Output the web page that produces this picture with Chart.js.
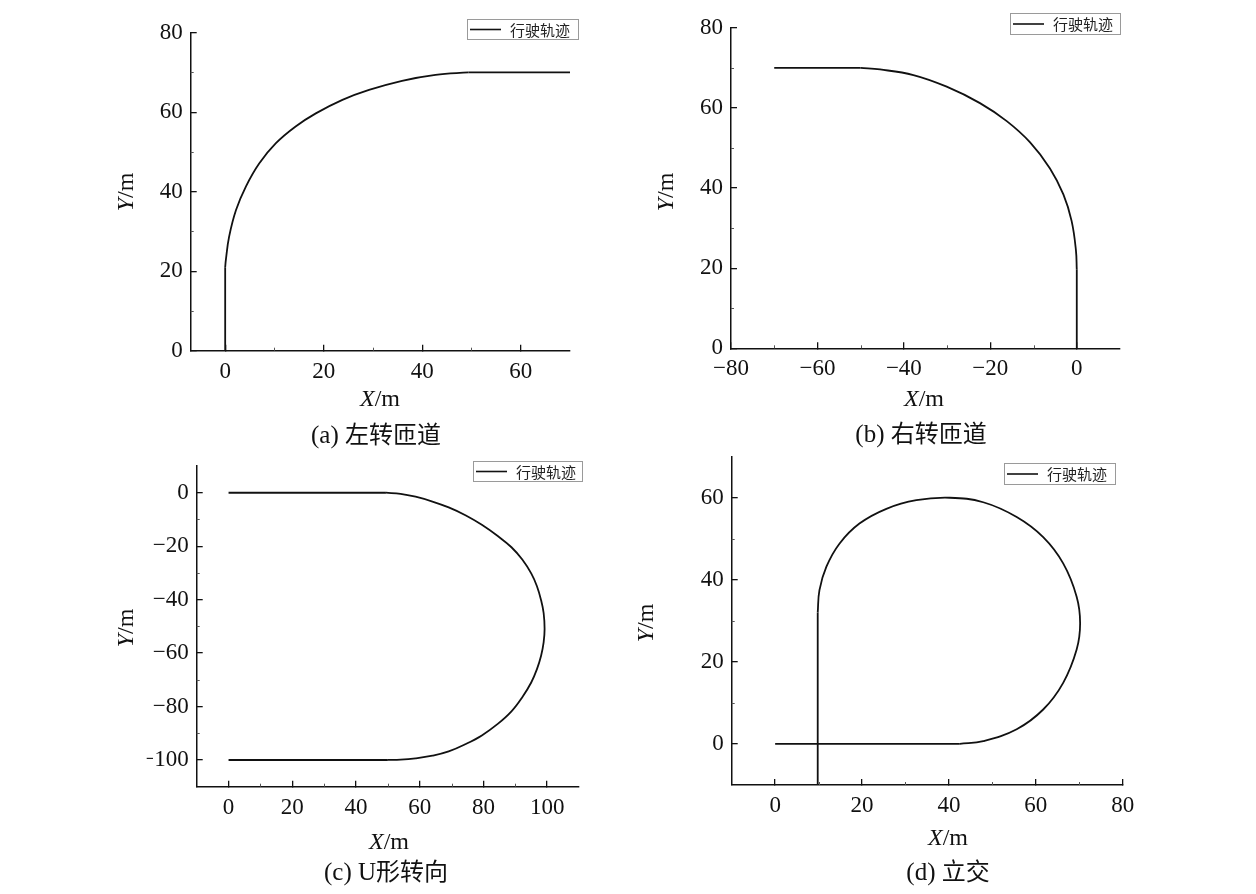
<!DOCTYPE html>
<html><head><meta charset="utf-8">
<script src="https://cdn.jsdelivr.net/npm/chart.js@4"></script>
<style>
html,body{margin:0;padding:0;background:#fff;}
#wrap{position:relative;width:1256px;height:894px;overflow:hidden;}
canvas{position:absolute;left:0;top:0;}
</style>
</head><body>
<div id="wrap">
<canvas id="ca" width="1256" height="894"></canvas>
<canvas id="cb" width="1256" height="894"></canvas>
<canvas id="cc" width="1256" height="894"></canvas>
<canvas id="cd" width="1256" height="894"></canvas>
</div>
<script>
// ---- data ----
const seriesName = '行驶轨迹';
const captions = ['(a) ', '左转匝道', '(b) ', '右转匝道', '(c) U', '形转向', '(d) ', '立交'];

const aX = [0, 0, 0.15, 0.8, 2.2, 4.2, 6.9, 10.3, 14.3, 18.4, 23.8, 29.2, 35.9, 42.7, 49.4, 70];
const aY = [0, 21, 23, 28.7, 35.4, 41.3, 47.1, 52.2, 56.4, 59.7, 63.1, 65.6, 67.9, 69.4, 70, 70];

const bX = [0, 0, -0.2, -1.2, -3.1, -6.2, -10.8, -16.2, -22.4, -30.1, -37.8, -45.5, -50, -70];
const bY = [0, 19.6, 24.5, 31.8, 38.4, 44.9, 51.4, 56.7, 61.2, 65.3, 68.2, 69.6, 70, 70];

const cX = [0, 49.4, 54, 58.7, 64, 69.1, 74.5, 79.5, 84.5, 88.8, 92.2, 95, 96.8, 98.1, 98.9, 99.2, 98.9, 98.1, 96.8, 95, 92.2, 88.8, 84.5, 79.5, 74.5, 69.1, 64, 58.7, 54, 50, 0];
const cY = [0, 0, -0.4, -1.5, -3.3, -5.5, -8.5, -12, -16.2, -20.4, -25, -30.2, -35, -40.2, -45, -51, -56, -61, -66, -71, -76.5, -81.8, -86.5, -90.8, -94, -96.8, -98.4, -99.4, -99.9, -100, -100];

const dX = [9.8, 9.8, 10.2, 11.8, 14.8, 19.4, 25.6, 32.5, 40.2, 47.9, 55.6, 61.7, 66.3, 69.4, 70.2, 69.4, 66.3, 61.7, 55.6, 47.9, 42.5, 0];
const dY = [-10, 32, 37.5, 43.2, 48.8, 53.7, 57.3, 59.4, 60, 58.9, 55.3, 50.4, 44, 35.9, 29.4, 23, 14.9, 8.4, 3.6, 0.7, 0, 0];

const aXRange = [-7, 70], aYRange = [0, 80];
const bXRange = [-80, 10], bYRange = [0, 80];
const cXRange = [-10, 110], cYRange = [-110, 10];
const dXRange = [-10, 80], dYRange = [-10, 70];

const aXTicks = [0, 20, 40, 60], aYTicks = [0, 20, 40, 60, 80];
const bXTicks = [-80, -60, -40, -20, 0], bYTicks = [0, 20, 40, 60, 80];
const cXTicks = [0, 20, 40, 60, 80, 100], cYTicks = [-100, -80, -60, -40, -20, 0];
const dXTicks = [0, 20, 40, 60, 80], dYTicks = [0, 20, 40, 60];

// ---- styling / layout ----
const SERIF = '"Liberation Serif","Times New Roman",serif';
const CJK = '"Noto Sans CJK SC","Noto Sans CJK JP",sans-serif';
const W = 1256, H = 894, YW = 50, XH = 40;

function fmt(v){ return String(v).replace('-', '\u2212'); }
function pts(xs, ys){ return xs.map((x, i) => ({x: x, y: ys[i]})); }

function drawMixed(ctx, parts, cx, cy, angle){
  ctx.save();
  ctx.translate(cx, cy);
  if (angle) ctx.rotate(angle);
  let total = 0;
  parts.forEach(p => { ctx.font = p.font; p.w = ctx.measureText(p.t).width; total += p.w; });
  let x = -total / 2;
  ctx.textBaseline = 'alphabetic';
  ctx.textAlign = 'left';
  ctx.fillStyle = '#111';
  parts.forEach(p => { ctx.font = p.font; ctx.fillText(p.t, x, p.base); x += p.w; });
  ctx.restore();
}

// curve: index range of the smooth (curved) part; the rest are straight runs
const panels = [
  {id:'ca', xs:aX, ys:aY, xr:aXRange, yr:aYRange, xt:aXTicks, yt:aYTicks, curve:[1, 14],
   area:{l:190.7, r:570, t:32.7, b:350.7},
   xtl:[380, 398], ytl:[125, 192], cap:[captions[0], captions[1], 376, 434], leg:[467, 19, 111, 20]},
  {id:'cb', xs:bX, ys:bY, xr:bXRange, yr:bYRange, xt:bXTicks, yt:bYTicks, curve:[1, 12],
   area:{l:731, r:1120, t:21.7, b:348.3},
   xtl:[924, 398], ytl:[665, 192], cap:[captions[2], captions[3], 921, 433], leg:[1010, 13, 110, 21]},
  {id:'cc', xs:cX, ys:cY, xr:cXRange, yr:cYRange, xt:cXTicks, yt:cYTicks, curve:[1, 29],
   area:{l:196.7, r:579, t:466, b:786.7},
   xtl:[389, 841], ytl:[125, 628], cap:[captions[4], captions[5], 386, 871], leg:[473, 461, 109, 20]},
  {id:'cd', xs:dX, ys:dY, xr:dXRange, yr:dYRange, xt:dXTicks, yt:dYTicks, curve:[1, 20],
   area:{l:731.7, r:1122.7, t:456.7, b:785},
   xtl:[948, 837], ytl:[645, 623], cap:[captions[6], captions[7], 948, 871], leg:[1004, 463, 111, 21]}
];

function minorValues(min, max, majors){
  const out = [];
  for (let v = Math.ceil(min / 10) * 10; v < max; v += 10) {
    if (v > min && majors.indexOf(v) < 0) out.push(v);
  }
  return out;
}

const decor = {
  id: 'decor',
  afterDatasetsDraw(chart, args, o) {
    const p = o.panel, ctx = chart.ctx, ca = chart.chartArea;
    const xs = chart.scales.x, ys = chart.scales.y;
    ctx.save();
    ctx.strokeStyle = '#555';
    ctx.lineWidth = 1;
    ctx.beginPath();
    minorValues(p.xr[0], p.xr[1], p.xt).forEach(v => {
      const px = Math.round(xs.getPixelForValue(v)) + 0.5;
      ctx.moveTo(px, ca.bottom); ctx.lineTo(px, ca.bottom - 3);
    });
    minorValues(p.yr[0], p.yr[1], p.yt).forEach(v => {
      const py = Math.round(ys.getPixelForValue(v)) + 0.5;
      ctx.moveTo(ca.left, py); ctx.lineTo(ca.left + 3, py);
    });
    ctx.stroke();
    ctx.restore();
  },
  afterDraw(chart, args, o) {
    const p = o.panel, ctx = chart.ctx;
    drawMixed(ctx, [{t:'X', font:'italic 24px ' + SERIF, base:8}, {t:'/m', font:'24px ' + SERIF, base:8}], p.xtl[0], p.xtl[1], 0);
    drawMixed(ctx, [{t:'Y', font:'italic 24px ' + SERIF, base:8}, {t:'/m', font:'24px ' + SERIF, base:8}], p.ytl[0], p.ytl[1], -Math.PI / 2);
    drawMixed(ctx, [{t:p.cap[0], font:'25px ' + SERIF, base:9}, {t:p.cap[1], font:'24px ' + CJK, base:9}], p.cap[2], p.cap[3], 0);
    const [lx, ly, lw, lh] = p.leg;
    ctx.save();
    ctx.fillStyle = '#fff';
    ctx.fillRect(lx, ly, lw, lh);
    ctx.strokeStyle = '#9a9a9a';
    ctx.lineWidth = 1;
    ctx.strokeRect(lx + 0.5, ly + 0.5, lw, lh);
    ctx.strokeStyle = '#111';
    ctx.lineWidth = 1.6;
    ctx.beginPath();
    ctx.moveTo(lx + 3, ly + lh / 2 + 0.5);
    ctx.lineTo(lx + 34, ly + lh / 2 + 0.5);
    ctx.stroke();
    ctx.fillStyle = '#222';
    ctx.font = '15px ' + CJK;
    ctx.textBaseline = 'middle';
    ctx.textAlign = 'left';
    ctx.fillText(seriesName, lx + 43, ly + lh / 2 + 1);
    ctx.restore();
  }
};

function lineDs(data, tension){
  return {label: seriesName, data: data, showLine: true, borderColor: '#111', borderWidth: 1.8,
          pointRadius: 0, tension: tension, fill: false};
}

panels.forEach(p => {
  const all = pts(p.xs, p.ys);
  const [c0, c1] = p.curve;
  const datasets = [
    lineDs(all.slice(0, c0 + 1), 0),
    lineDs(all.slice(c0, c1 + 1), 0.4),
    lineDs(all.slice(c1), 0)
  ];
  const tickFont = {family: SERIF, size: 23};
  new Chart(document.getElementById(p.id), {
    type: 'scatter',
    data: {datasets: datasets},
    options: {
      responsive: false, animation: false, devicePixelRatio: 1,
      layout: {padding: {left: p.area.l - YW, right: W - p.area.r, top: p.area.t, bottom: H - p.area.b - XH}},
      plugins: {legend: {display: false}, tooltip: {enabled: false}, title: {display: false}, decor: {panel: p}},
      scales: {
        x: {type: 'linear', position: 'bottom', min: p.xr[0], max: p.xr[1],
          border: {display: true, color: '#111', width: 1.5},
          grid: {display: true, drawOnChartArea: false, drawTicks: true, tickLength: -6, color: '#111', lineWidth: 1.3},
          ticks: {autoSkip: false, maxRotation: 0, color: '#111', font: tickFont, padding: 13, callback: fmt},
          afterBuildTicks: s => { s.ticks = p.xt.map(v => ({value: v})); },
          afterFit: s => { s.height = XH; }
        },
        y: {type: 'linear', position: 'left', min: p.yr[0], max: p.yr[1],
          border: {display: true, color: '#111', width: 1.5},
          grid: {display: true, drawOnChartArea: false, drawTicks: true, tickLength: -6, color: '#111', lineWidth: 1.3},
          ticks: {autoSkip: false, color: '#111', font: tickFont, padding: 14, callback: fmt},
          afterBuildTicks: s => { s.ticks = p.yt.map(v => ({value: v})); },
          afterFit: s => { s.width = YW; }
        }
      }
    },
    plugins: [decor]
  });
});
</script>
</body></html>
